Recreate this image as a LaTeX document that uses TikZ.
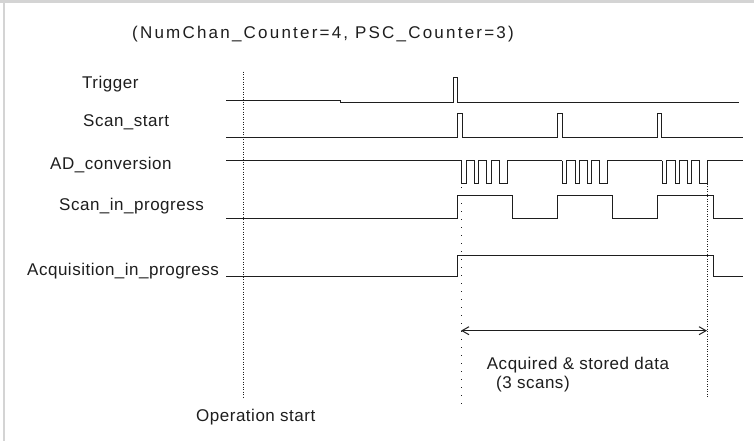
\documentclass[tikz,border=0pt]{standalone}
\usepackage{fontspec}
\setmainfont{Liberation Sans}
\usepackage{xcolor}
\usetikzlibrary{arrows.meta,positioning,calc}

\definecolor{framegray}{RGB}{212,212,212}
\definecolor{inkgray}{RGB}{30,30,30}

\begin{document}
\begin{tikzpicture}[x=1pt,y=-1pt,
    sig/.style={draw=inkgray,line width=1pt,line join=miter},
    lbl/.style={anchor=base west,inner sep=0pt,text=inkgray,
        font=\fontsize{17}{20}\selectfont\addfontfeature{LetterSpace=3}},
    guide/.style={draw=inkgray,line width=0.8pt,dash pattern=on 1pt off 1.5pt},
    sparse/.style={draw=inkgray,line width=0.8pt,dash pattern=on 1pt off 7pt}]
    \useasboundingbox (0,0) rectangle (754,441);
    \fill[white] (0,0) rectangle (754,441);

    % window frame (top and left edge only)
    \fill[framegray] (0,0) rectangle (754,3.3);
    \fill[framegray] (2.5,0) rectangle (5.3,441);

    % title
    \node[lbl,font=\fontsize{17}{20}\selectfont\addfontfeature{LetterSpace=13}] (title) at (132,38.3) {(NumChan\_Counter=4, PSC\_Counter=3)};

    % signal names
    \node[lbl] (trig) at (82,88.3) {Trigger};
    \node[lbl] (sstart) at (83,127) {Scan\_start};
    \node[lbl] (adc) at (50,169.3) {AD\_conversion};
    \node[lbl] (sprog) at (59,210.7) {Scan\_in\_progress};
    \node[lbl] (aprog) at (27,275) {Acquisition\_in\_progress};

    % Trigger: one short pulse
    \draw[sig] (226,101) -- (340,101) -- (340,102.3) -- (453.3,102.3) |- (457.7,78) |- (739,102.3);

    % Scan_start: one pulse per scan
    \draw[sig] (226,137) -| (457.7,114) -| (462.3,137) -| (557.3,114) -| (562.3,137)
        -| (657.3,114) -| (661.7,137) -- (743,137);

    % AD_conversion: 4 conversions per scan (active low)
    \draw[sig] (226,160.5) -- (461.7,160.5);
    \foreach \s/\e in {461.7/562.3, 562.3/662.3, 662.3/743} {
        \draw[sig] (\s,160.5) |- (\s+4.3,183.5) |- (\s+12.7,160.5) |- (\s+17,183.5)
            |- (\s+25,160.5) |- (\s+29.3,183.5) |- (\s+37.6,160.5) |- (\s+45.5,183.5)
            |- (\e,160.5);
    }

    % Scan_in_progress
    \draw[sig] (226,218.7) -| (457.3,195.7) -| (512.7,218.7) -| (557.7,195.7) -| (612.7,218.7)
        -| (657.3,195.7) -| (713.3,218.7) -- (743,218.7);

    % Acquisition_in_progress
    \draw[sig] (226,276.5) -| (457,255) -| (713.3,276.5) -- (743,276.5);

    % time markers
    \draw[guide] (243.5,71.7) -- (243.5,398);
    \draw[sparse] (461,163) -- (461,405);
    \draw[guide] (707,161) -- (707,398);

    % stored window
    \coordinate (win1) at (461,330.7);
    \coordinate (win2) at (707,330.7);
    \draw[sig,{Straight Barb[length=7pt,width=8pt]}-{Straight Barb[length=7pt,width=8pt]}] (win1) -- (win2);

    \node[lbl] (stored) at (486.7,369.3) {Acquired \& stored data};
    \node[lbl] (nscan) at (496,388.3) {(3 scans)};
    \node[lbl] (opstart) at (196,421) {Operation start};
\end{tikzpicture}
\end{document}
